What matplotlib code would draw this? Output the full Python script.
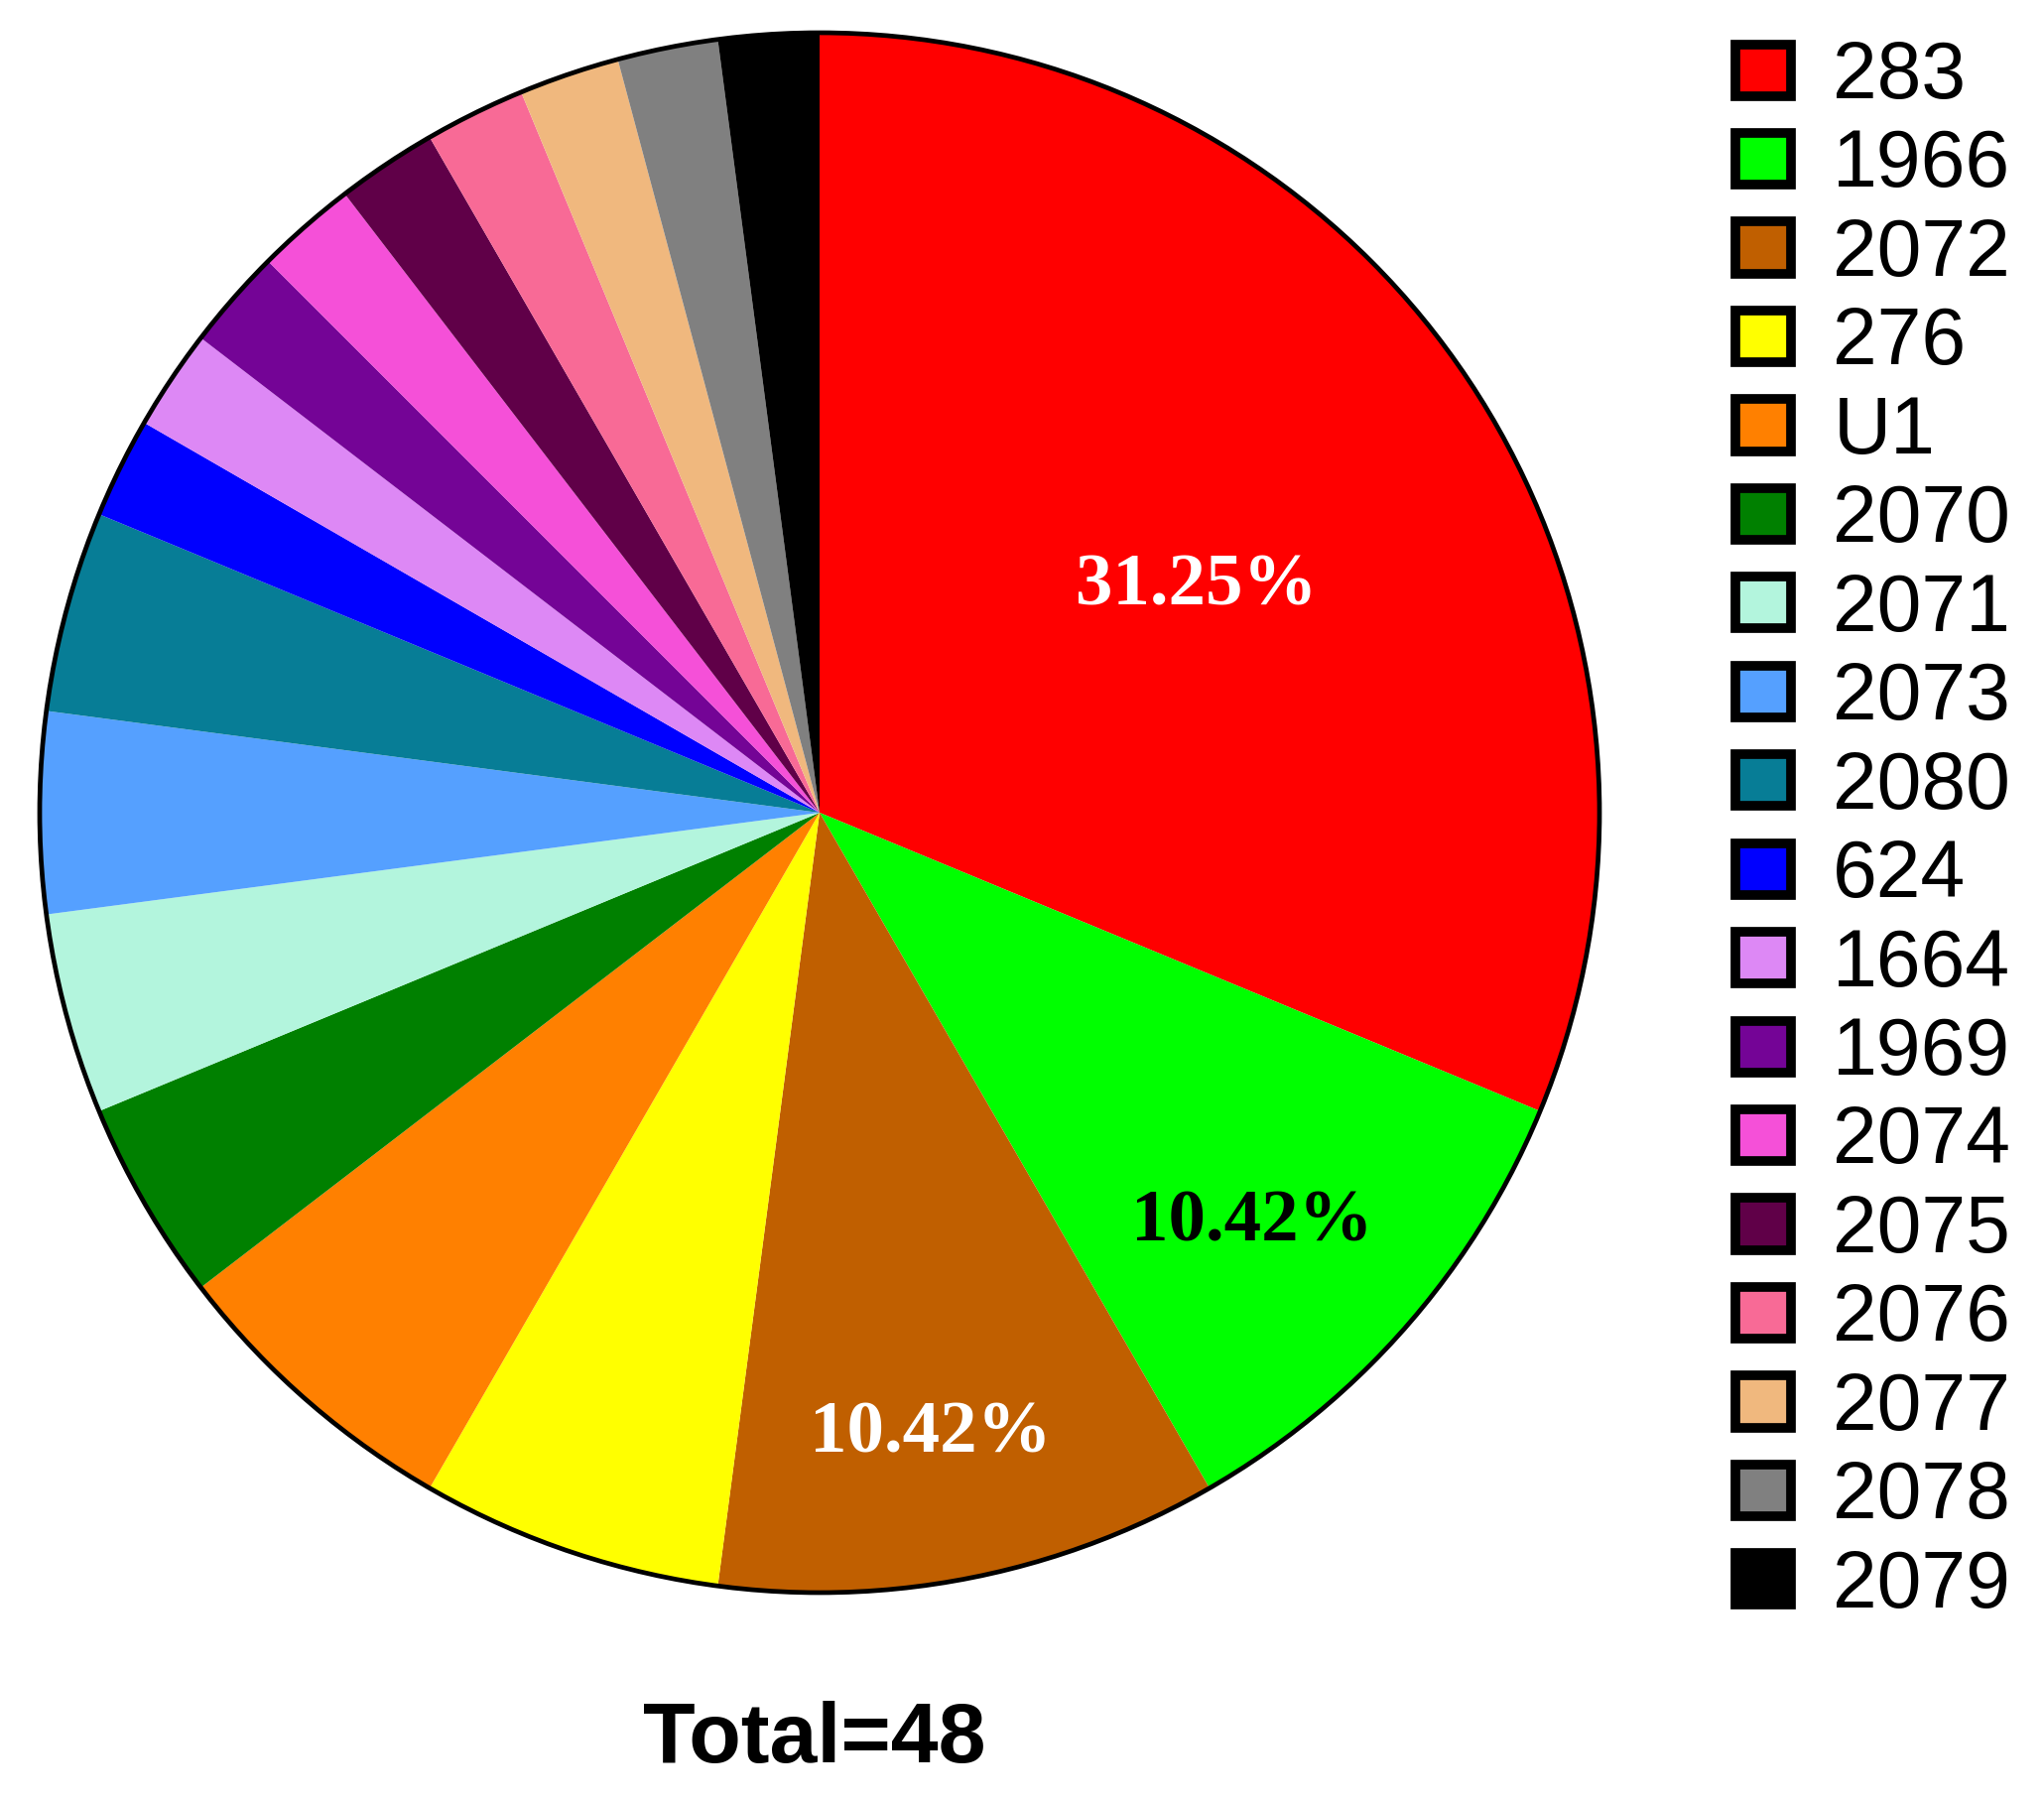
import matplotlib
matplotlib.use('Agg')
import numpy as np
import matplotlib.pyplot as plt
from matplotlib.patches import Patch, Circle

# data (counts out of 48)
labels = ['283', '1966', '2072', '276', 'U1', '2070', '2071', '2073', '2080',
          '624', '1664', '1969', '2074', '2075', '2076', '2077', '2078', '2079']
counts = [15, 5, 5, 3, 3, 2, 2, 2, 2, 1, 1, 1, 1, 1, 1, 1, 1, 1]
colors = ['#FF0000', '#00FF00', '#C05F00', '#FFFF00', '#FF8000', '#008000',
          '#B3F5DD', '#55A0FF', '#077D96', '#0000FF', '#DD88F5', '#740496',
          '#F550D8', '#600048', '#F86A96', '#F0B87E', '#808080', '#000000']
shown_pct = ['31.25%', '10.42%', '10.42%']
pct_colors = ['white', 'black', 'white']
# label placement (polar, in pie radii / degrees)
pct_radius = [0.568, 0.757, 0.80]
pct_angle = [31.8, -42.9, -79.8]

W, H = 2060, 1816
fig = plt.figure(figsize=(W / 100, H / 100), dpi=100)

# pie axes: centre (826, 819) px, radius 786 px
R = 786
cx, cy = 826, 819
ax = fig.add_axes([(cx - R) / W, (H - cy - R) / H, 2 * R / W, 2 * R / H])
wedges, _ = ax.pie(counts, colors=colors, startangle=90, counterclock=False,
                   radius=1, wedgeprops=dict(linewidth=0))
ax.add_patch(Circle((0, 0), 1, fill=False, edgecolor='black', linewidth=3.4,
                    clip_on=False))
ax.set_xlim(-1, 1)
ax.set_ylim(-1, 1)
ax.set_aspect('auto')
ax.axis('off')

for i, txt in enumerate(shown_pct):
    a = np.deg2rad(pct_angle[i])
    ax.text(pct_radius[i] * np.cos(a), pct_radius[i] * np.sin(a), txt,
            ha='center', va='center_baseline', color=pct_colors[i],
            fontsize=54, fontweight='bold', family='Liberation Serif')

# legend on the right
handles = [Patch(facecolor=c, edgecolor='black', linewidth=7) for c in colors]
fig.legend(handles, labels, loc='upper left', bbox_to_anchor=(1749 / W, 1 - 40 / H),
           frameon=False, prop={'family': 'Liberation Sans', 'size': 58},
           handlelength=0.70, handleheight=0.62, handletextpad=0.52,
           labelspacing=0.167, borderpad=0, borderaxespad=0)

fig.text(821 / W, 1 - 1754 / H, 'Total=48', ha='center', va='center',
         fontsize=62, fontweight='bold', family='Liberation Sans')

fig.savefig('out.png', dpi=100)
